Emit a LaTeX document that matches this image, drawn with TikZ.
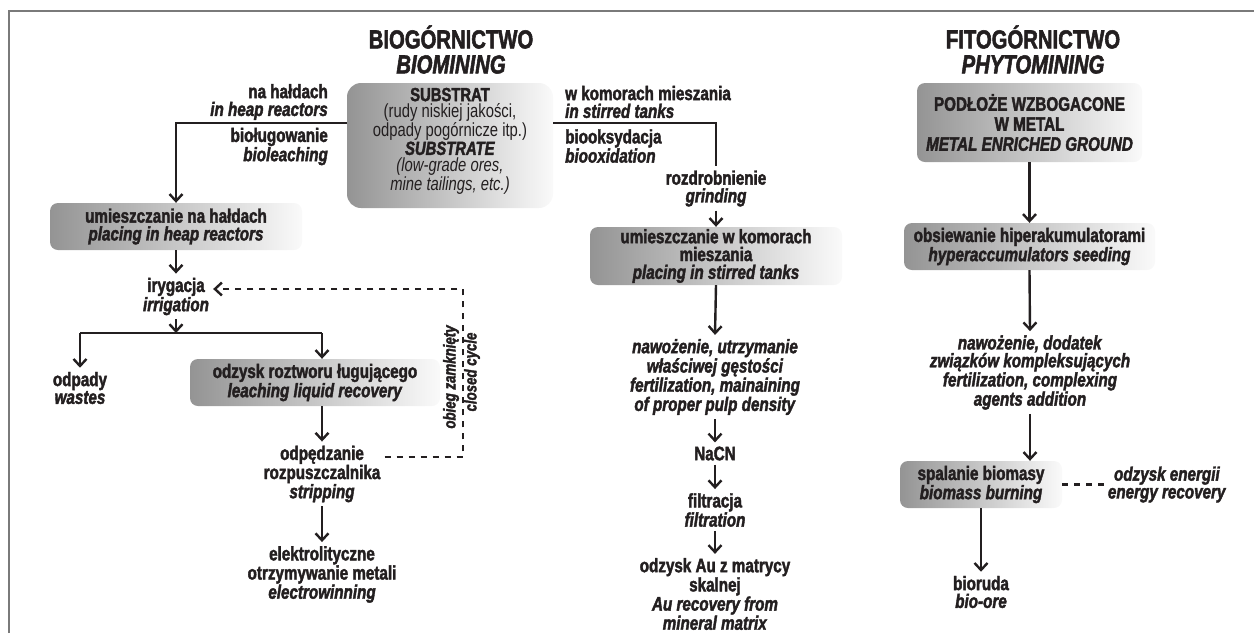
\documentclass[tikz,border=0pt]{standalone}
\usepackage{fontspec}
\setmainfont{Liberation Sans}[FakeStretch=0.78,BoldFeatures={FakeBold=2},BoldItalicFeatures={FakeBold=2}]
\usetikzlibrary{arrows.meta}
\definecolor{ink}{HTML}{231F20}
\definecolor{framec}{HTML}{7A7A7A}
\begin{document}
\begin{tikzpicture}[x=1pt,y=-1pt,
  every node/.style={text=ink, inner sep=4pt},
  conn/.style={draw=ink, line width=2.4pt},
  arr/.style={conn, -{Straight Barb[length=7pt,width=13pt]}},
  dsh/.style={conn, dash pattern=on 6pt off 6pt},
  txt/.style={align=center, font=\fontsize{19.5}{17.8}\selectfont\bfseries},
  lbl/.style={txt},
  fbox/.style={txt, rounded corners=8pt, left color=black!42, right color=black!2, inner sep=2pt},
  titlestyle/.style={align=center, font=\fontsize{26}{25}\selectfont\bfseries},
  subtxt/.style={align=center, inner sep=0pt, font=\fontsize{19}{16.6}\selectfont\bfseries},
  smalltxt/.style={inner sep=0pt, font=\fontsize{17}{19}\selectfont\bfseries\itshape}
]
\useasboundingbox (0,0) rectangle (1254,633);
\draw[draw=framec, line width=2pt] (9,633) -- (9,11) -- (1254,11);

% titles
\node[titlestyle] (t1) at (451,49.5) {BIOGÓRNICTWO\\\textit{BIOMINING}};
\node[titlestyle] (t2) at (1033,49.5) {FITOGÓRNICTWO\\\textit{PHYTOMINING}};

% substrate
\node[fbox, rounded corners=14pt, minimum width=206pt, minimum height=125pt] (sub) at (450,145.5) {};
\node[subtxt] (subt) at (450,141) {SUBSTRAT\\\textmd{(rudy niskiej jakości,}\\\textmd{odpady pogórnicze itp.)}\\\textit{SUBSTRATE}\\\textmd{\textit{(low-grade ores,}}\\\textmd{\textit{mine tailings, etc.)}}};

\node[lbl, anchor=east, align=right] (nh) at (332,102) {na hałdach\\\textit{in heap reactors}};
\node[lbl, anchor=east, align=right] (bl) at (332,146.5) {bioługowanie\\\textit{bioleaching}};
\node[lbl, anchor=west, align=left] (wk) at (561,102) {w komorach mieszania\\\textit{in stirred tanks}};
\node[lbl, anchor=west, align=left] (bo) at (561,146) {biooksydacja\\\textit{biooxidation}};

% left branch
\node[fbox, minimum width=252pt, minimum height=47pt] (heap) at (176,226.5) {umieszczanie na hałdach\\\textit{placing in heap reactors}};
\node[lbl] (irr) at (176,296.5) {irygacja\\\textit{irrigation}};
\coordinate (l1) at (176,123);
\coordinate (j1) at (176,333);
\coordinate (jl) at (80,333);
\coordinate (jr) at (322,333);
\node[lbl] (waste) at (80,388) {odpady\\\textit{wastes}};
\node[fbox, minimum width=250pt, minimum height=47pt] (leach) at (315,382.5) {odzysk roztworu ługującego\\\textit{leaching liquid recovery}};
\node[lbl] (strip) at (322,474) {odpędzanie\\rozpuszczalnika\\\textit{stripping}};
\node[lbl] (elec) at (322,574.5) {elektrolityczne\\otrzymywanie metali\\\textit{electrowinning}};
\coordinate (c1) at (463,457);
\coordinate (c2) at (463,289);
\node[smalltxt, rotate=90] (cyc1) at (451,377) {obieg zamknięty};
\node[smalltxt, rotate=90] (cyc2) at (472,372) {closed cycle};

% middle branch
\coordinate (r1) at (716,123);
\node[lbl] (grind) at (716,188.5) {rozdrobnienie\\\textit{grinding}};
\node[fbox, minimum width=252pt, minimum height=58pt] (stir) at (716,256) {umieszczanie w komorach\\mieszania\\\textit{placing in stirred tanks}};
\node[lbl] (fert) at (715,377) {\textit{nawożenie, utrzymanie}\\\textit{właściwej gęstości}\\\textit{fertilization, mainaining}\\\textit{of proper pulp density}};
\node[lbl] (nacn) at (715,453.5) {NaCN};
\node[lbl] (filt) at (715,510) {filtracja\\\textit{filtration}};
\node[lbl] (au) at (715,594) {odzysk Au z matrycy\\skalnej\\\textit{Au recovery from}\\\textit{mineral matrix}};

% right branch
\node[fbox, minimum width=225pt, minimum height=79pt, font=\fontsize{19.5}{20}\selectfont\bfseries] (ground) at (1029.5,122.5) {PODŁOŻE WZBOGACONE\\W METAL\\\textit{METAL ENRICHED GROUND}};
\node[fbox, minimum width=251pt, minimum height=47pt] (seed) at (1029.5,246.5) {obsiewanie hiperakumulatorami\\\textit{hyperaccumulators seeding}};
\node[lbl] (compl) at (1030,372.5) {\textit{nawożenie, dodatek}\\\textit{związków kompleksujących}\\\textit{fertilization, complexing}\\\textit{agents addition}};
\node[fbox, minimum width=162pt, minimum height=47pt] (burn) at (981,484.5) {spalanie biomasy\\\textit{biomass burning}};
\node[lbl] (bior) at (981,592) {bioruda\\\textit{bio-ore}};
\node[lbl] (energy) at (1167,484.5) {\textit{odzysk energii}\\\textit{energy recovery}};

% connectors
\draw[arr] (sub.west |- l1) -- (l1) -- (heap.north);
\draw[conn] (sub.east |- r1) -- (r1) -- (grind.north);
\draw[arr] (grind.south) -- (stir.north);
\draw[arr] (heap.south) -- (irr.north);
\draw[arr] (irr.south) -- (j1);
\draw[conn] (jl) -- (jr);
\draw[arr] (jl) -- (waste.north);
\draw[arr] (jr) -- (jr |- leach.north);
\draw[arr] (strip.north |- leach.south) -- (strip.north);
\draw[arr] (strip.south) -- (elec.north);
\draw[dsh, -{Straight Barb[length=7pt,width=13pt]}] (strip.east |- c1) -- (c1) -- (c2) -- (irr.east |- c2);
\draw[arr] (stir.south) -- (fert.north);
\draw[arr] (fert.south) -- (nacn.north);
\draw[arr] (nacn.south) -- (filt.north);
\draw[arr] (filt.south) -- (au.north);
\draw[arr] (ground.south) -- (seed.north);
\draw[arr] (seed.south) -- (compl.north);
\draw[arr] (compl.south) -- (compl.south |- burn.north);
\draw[arr] (burn.south) -- (bior.north);
\draw[dsh] (burn.east) -- (energy.west);
\end{tikzpicture}
\end{document}
